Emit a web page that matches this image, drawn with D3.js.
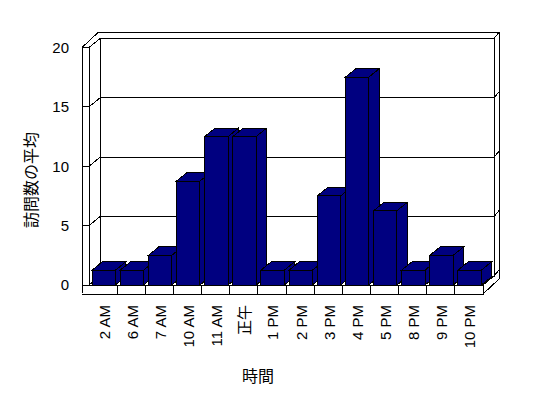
<!DOCTYPE html>
<html>
<head>
<meta charset="utf-8">
<style>
  body { margin: 0; background: #fff; }
  text { font-family: "Liberation Sans", "Noto Sans CJK JP", sans-serif; fill: #000; }
</style>
</head>
<body>
<script src="https://cdn.jsdelivr.net/npm/d3@7"></script>
<script>
var categories = ["2 AM", "6 AM", "7 AM", "10 AM", "11 AM", "正午", "1 PM", "2 PM", "3 PM", "4 PM", "5 PM", "8 PM", "9 PM", "10 PM"];
var values = [1.25, 1.25, 2.5, 8.75, 12.5, 12.5, 1.25, 1.25, 7.5, 17.5, 6.25, 1.25, 2.5, 1.25];
var yTicks = [0, 5, 10, 15, 20];

var width = 548, height = 398;

var svg = d3.select("body").append("svg")
    .attr("width", width)
    .attr("height", height)
    .style("display", "block");

// front plane of the 3d box
var x = d3.scaleBand().domain(categories).range([89, 483]);
var y = d3.scaleLinear().domain([0, 20]).range([285, 47.5]);

var dx = 11, dy = -9;      // depth of floor / walls
var tx = 5, ty = -6;       // thickness of back wall
var wall = 7;              // thickness of left wall
var floorH = 9;            // thickness of floor
var bdx = 10.5, bdy = -8.5; // depth of a bar

var x0 = x.range()[0], x1 = x.range()[1];
var yTop = y(20), yBase = y(0);

function line(pts) {
  return "M" + pts.map(function(p) { return p[0] + "," + p[1]; }).join("L");
}

var frame = svg.append("g")
    .attr("fill", "none")
    .attr("stroke", "#000")
    .attr("stroke-width", 1)
    .attr("shape-rendering", "crispEdges");

// back wall
frame.append("path").attr("fill", "#fff")
    .attr("d", line([[x0 + dx, yTop + dy], [x1 + dx, yTop + dy], [x1 + dx, yBase + dy], [x0 + dx, yBase + dy]]) + "Z");
// outer top and right side of back wall
frame.append("path")
    .attr("d", line([[x0 - wall + dx + tx, yTop + dy + ty], [x1 + dx + tx, yTop + dy + ty], [x1 + dx + tx, yBase + floorH + dy + ty]]));
frame.append("path")
    .attr("d", line([[x1 + dx, yTop + dy], [x1 + dx + tx, yTop + dy + ty]]));

// gridlines
yTicks.forEach(function(t) {
  var yf = y(t);
  frame.append("path").attr("d", line([[x0 - wall, yf], [x0, yf], [x0 + dx, yf + dy], [x1 + dx, yf + dy], [x1 + dx + tx, yf + dy + ty]]));
});

// left wall
frame.append("path")
    .attr("d", line([[x0 - wall, yBase + floorH], [x0 - wall, yTop], [x0, yTop], [x0, yBase]]));
frame.append("path")
    .attr("d", line([[x0 - wall, yTop], [x0 - wall + dx + tx, yTop + dy + ty]]));
frame.append("path")
    .attr("d", line([[x0, yTop], [x0 + dx, yTop + dy]]));
frame.append("path")
    .attr("d", line([[x0 + dx, yTop + dy], [x0 + dx, yBase + dy]]));

// bars, drawn left to right so each covers the side of the previous
var bw = x.bandwidth();
var bars = svg.append("g")
    .attr("fill", "#000080")
    .attr("stroke", "#000")
    .attr("stroke-width", 1)
    .attr("stroke-linejoin", "miter")
    .attr("shape-rendering", "crispEdges");

categories.forEach(function(c, i) {
  var bx0 = x(c) + bw * 0.11, bx1 = bx0 + bw * 0.83;
  var by = y(values[i]);
  var g = bars.append("g");
  // side
  g.append("path").attr("d", line([[bx1, by], [bx1 + bdx, by + bdy], [bx1 + bdx, yBase + bdy], [bx1, yBase]]) + "Z");
  // top
  g.append("path").attr("d", line([[bx0, by], [bx0 + bdx, by + bdy], [bx1 + bdx, by + bdy], [bx1, by]]) + "Z");
  // front
  g.append("path").attr("d", line([[bx0, by], [bx1, by], [bx1, yBase], [bx0, yBase]]) + "Z");
});

// floor front band and right side
var floor = svg.append("g")
    .attr("fill", "#fff")
    .attr("stroke", "#000")
    .attr("stroke-width", 1)
    .attr("shape-rendering", "crispEdges");
floor.append("path")
    .attr("d", line([[x0 - wall, yBase + floorH], [x1, yBase + floorH], [x1, yBase], [x0, yBase]]));
floor.append("path").attr("fill", "none")
    .attr("d", line([[x1, yBase + floorH], [x1 + dx + tx, yBase + floorH + dy + ty]]));
floor.append("path").attr("fill", "none")
    .attr("d", line([[x1, yBase], [x1 + dx, yBase + dy]]));
categories.forEach(function(c, i) {
  if (i === 0) return;
  floor.append("path").attr("d", line([[x(c), yBase], [x(c), yBase + floorH]]));
});

// y tick labels
svg.append("g").selectAll("text")
    .data(yTicks)
    .enter().append("text")
    .attr("x", 69)
    .attr("y", function(d) { return y(d); })
    .attr("dy", "0.36em")
    .attr("text-anchor", "end")
    .style("font-size", "15px")
    .text(function(d) { return d; });

// x labels, rotated
svg.append("g").selectAll("text")
    .data(categories)
    .enter().append("text")
    .attr("transform", function(d) { return "translate(" + (x(d) + bw / 2 + 6.5) + ",305) rotate(-90)"; })
    .attr("text-anchor", "end")
    .style("font-size", "15px")
    .text(function(d) { return d; });

// axis titles
svg.append("text")
    .attr("x", 258)
    .attr("y", 382)
    .attr("text-anchor", "middle")
    .style("font-size", "16px")
    .text("時間");

svg.append("text")
    .attr("transform", "translate(37,180) rotate(-90)")
    .attr("text-anchor", "middle")
    .style("font-size", "16px")
    .text("訪問数の平均");
</script>
</body>
</html>
